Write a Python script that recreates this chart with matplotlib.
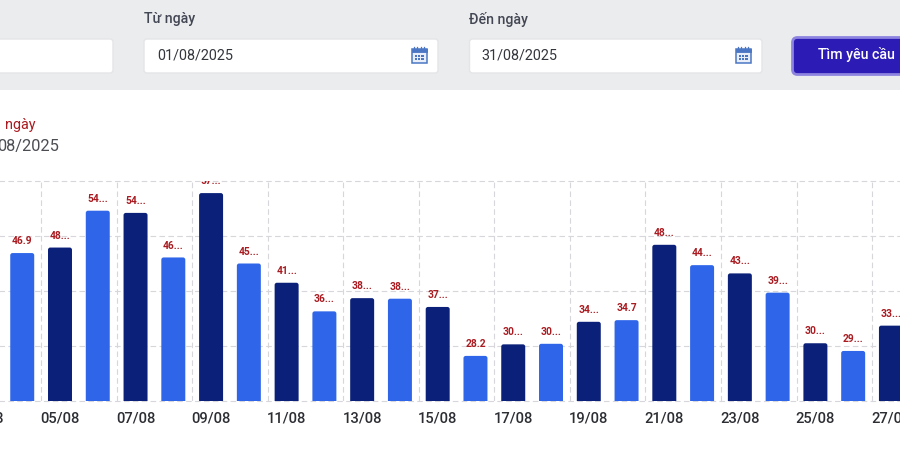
import matplotlib
matplotlib.use('Agg')
from matplotlib import pyplot as plt
from matplotlib.patches import FancyBboxPatch, Rectangle

plt.rcParams['font.family'] = ['Roboto', 'DejaVu Sans']

days = [4, 5, 6, 7, 8, 9, 10, 11, 12, 13, 14, 15, 16, 17, 18, 19, 20, 21, 22, 23, 24, 25, 26, 27]
values = [46.9, 47.9, 54.6, 54.2, 46.1, 57.8, 45.0, 41.5, 36.3, 38.7, 38.6, 37.1,
          28.2, 30.3, 30.4, 34.4, 34.7, 48.4, 44.7, 43.2, 39.7, 30.5, 29.1, 33.7]
value_labels = ['46.9', '48...', '54...', '54...', '46...', '57...', '45...', '41...',
                '36...', '38...', '38...', '37...', '28.2', '30...', '30...', '34...',
                '34.7', '48...', '44...', '43...', '39...', '30...', '29...', '33...']
tick_days = [3, 5, 7, 9, 11, 13, 15, 17, 19, 21, 23, 25, 27]
tick_labels = ['03/08', '05/08', '07/08', '09/08', '11/08', '13/08', '15/08',
               '17/08', '19/08', '21/08', '23/08', '25/08', '27/08']
y_ticks = [20, 30, 40, 50, 60]

dark = '#0a2079'
light = '#2f66e9'
red = '#a91b20'
grid = '#d6d6db'

W, H = 900, 467
fig = plt.figure(figsize=(9, 4.67), dpi=100, facecolor='white')

# chart runs past both edges of the picture, the page was cropped
ax = fig.add_axes([-45 / W, (H - 401) / H, 990 / W, 220 / H])
ax.set_facecolor('none')
for s in ax.spines.values():
    s.set_visible(False)

ax.set_yticks(y_ticks)
ax.set_yticklabels([])
ax.set_xticks(tick_days)
ax.set_xticklabels(tick_labels, fontsize=10.6, color='#2c2e33', fontweight='medium')
ax.set_xticks([d - 0.5 for d in tick_days], minor=True)
# limits after the ticks, set_xticks widens them
ax.set_xlim(5 - 105 / 37.77, 5 + 885 / 37.77)
ax.set_ylim(20, 60)
ax.tick_params(axis='both', which='both', length=0)
ax.tick_params(axis='x', which='major', pad=7.5)
ax.grid(True, axis='y', which='major', color=grid, ls=(0, (5, 3)), lw=0.8, clip_on=False)
ax.grid(True, axis='x', which='minor', color=grid, ls=(0, (5, 3)), lw=0.8)
ax.set_axisbelow(True)

bar_w = 0.635
for i, d in enumerate(days):
    col = light if d % 2 == 0 else dark
    # starts under the axis so only the top corners show as round
    b = FancyBboxPatch((d - bar_w / 2, 18), bar_w, values[i] - 18,
                       boxstyle='round,pad=0,rounding_size=0.06',
                       mutation_aspect=6.88, fc=col, ec='none', zorder=3)
    ax.add_patch(b)
    ax.annotate(value_labels[i], (d, values[i]), xytext=(0, 8.6), textcoords='offset points',
                ha='center', va='center', fontsize=7.4, fontweight='bold', color=red,
                clip_on=True, annotation_clip=False, zorder=4)

# page around the chart, in pixels
ui = fig.add_axes([0, 0, 1, 1])
ui.set_xlim(0, W)
ui.set_ylim(H, 0)
ui.axis('off')
ui.patch.set_alpha(0)

ui.add_patch(Rectangle((0, 0), W, 89.5, fc='#ebecee', ec='none'))


def box(x0, x1, y0, y1, fc, ec, lw=1, r=3):
    ui.add_patch(FancyBboxPatch((x0, y0), x1 - x0, y1 - y0, boxstyle='round,pad=0,rounding_size=%s' % r,
                                fc=fc, ec=ec, lw=lw))


def calendar(x, y):
    icon = '#4a76c4'
    ui.add_patch(Rectangle((x, y + 2), 15, 14, fc='#e9eef8', ec=icon, lw=1.1))
    ui.add_patch(Rectangle((x, y + 2), 15, 3, fc=icon, ec=icon, lw=0.6))
    for k in range(4):
        ui.plot([x + 2 + k * 3.6] * 2, [y, y + 3], color=icon, lw=0.9)
    for r in range(2):
        for c in range(3):
            ui.add_patch(Rectangle((x + 3 + c * 3.4, y + 7.5 + r * 3.3), 2.2, 2.2, fc=icon, ec='none'))


box(-10, 113, 39, 73, 'white', '#e4e5e8')
box(144, 438, 39, 73, 'white', '#e4e5e8')
box(469.5, 762, 39, 73, 'white', '#e4e5e8')
box(792.5, 920, 37.5, 74.5, '#2d1bb5', '#8d84e0', lw=2, r=5)

label_col = '#434753'
ui.text(144, 19.5, 'Từ ngày', fontsize=10.2, color=label_col, va='center', fontweight='medium')
ui.text(469, 19.5, 'Đến ngày', fontsize=10.2, color=label_col, va='center', fontweight='medium')
ui.text(157, 55, '01/08/2025', fontsize=10.4, color='#33363c', va='center')
ui.text(481.5, 55, '31/08/2025', fontsize=10.4, color='#33363c', va='center')
ui.text(856, 55, 'Tìm yêu cầu', fontsize=10.2, color='white', va='center', ha='center', fontweight='medium')
calendar(411.5, 47)
calendar(735.5, 47)

ui.text(5, 124.5, 'ngày', fontsize=10.4, color=red, va='center')
ui.text(58.5, 146.5, '08/2025', fontsize=11.8, color='#4b4d52', va='center', ha='right')

fig.savefig('out.png', dpi=100)
